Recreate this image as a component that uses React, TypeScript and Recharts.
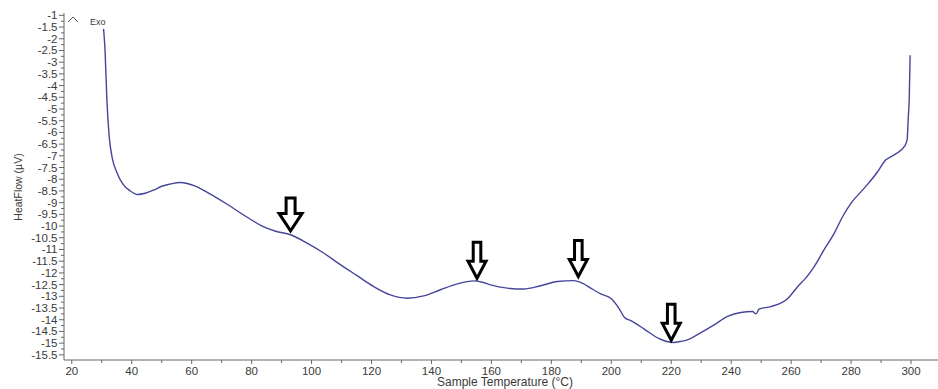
import React from 'react';
import { LineChart, Line, XAxis, YAxis, ReferenceDot } from 'recharts';

// Sample temperature (°C)
const temperature = [
  30.6, 31.1, 31.7, 32.5, 33.5, 35.0, 37.0, 39.5, 42.0, 44.5, 47.5, 50.0, 53.0, 56.0, 58.5,
  61.0, 65.5, 72.0, 78.0, 83.5, 88.0, 93.0, 98.5, 104.0, 109.6, 115.2, 120.7, 126.3, 131.9,
  137.4, 143.0, 148.6, 154.1, 157.0, 159.7, 165.3, 170.8, 176.4, 182.0, 187.5, 190.5, 193.1,
  196.5, 200.0, 202.5, 204.4, 206.7, 211.0, 215.8, 218.5, 220.9, 223.0, 225.4, 229.9, 234.3,
  238.8, 243.2, 247.1, 248.3, 249.3, 253.2, 258.8, 262.1, 265.0, 267.7, 271.0, 274.4, 277.2,
  280.0, 284.4, 288.9, 291.1, 294.5, 297.8, 298.7, 299.1, 299.4, 299.7,
];

// Heat flow (µV)
const heatFlow = [
  -1.58, -2.5, -4.6, -6.2, -7.1, -7.7, -8.2, -8.5, -8.65, -8.6, -8.45, -8.3, -8.2, -8.14, -8.18,
  -8.28, -8.58, -9.08, -9.58, -10.0, -10.22, -10.37, -10.73, -11.15, -11.65, -12.12, -12.58, -12.94, -13.08,
  -12.98, -12.72, -12.47, -12.34, -12.4, -12.51, -12.65, -12.69, -12.55, -12.37, -12.33, -12.45, -12.65,
  -12.9, -13.1, -13.5, -13.9, -14.05, -14.4, -14.8, -14.93, -14.97, -14.93, -14.86, -14.55, -14.22,
  -13.86, -13.69, -13.65, -13.75, -13.55, -13.44, -13.1, -12.6, -12.2, -11.73, -11.01, -10.3, -9.59,
  -9.02, -8.38, -7.67, -7.24, -6.95, -6.6, -6.31, -5.31, -4.6, -2.7,
];

// Arrow markers (tip positions)
const arrowTemps = [93, 155.2, 189, 220];
const arrowFlows = [-10.27, -12.29, -12.22, -14.94];

// Tick labels
const xLabels = [20, 40, 60, 80, 100, 120, 140, 160, 180, 200, 220, 240, 260, 280, 300];
const yLabels = [
  -15.5, -15, -14.5, -14, -13.5, -13, -12.5, -12, -11.5, -11, -10.5, -10, -9.5, -9, -8.5, -8,
  -7.5, -7, -6.5, -6, -5.5, -5, -4.5, -4, -3.5, -3, -2.5, -2, -1.5, -1,
];

const data = temperature.map((t, i) => ({ t, hf: heatFlow[i] }));

const xAllTicks = xLabels.flatMap((v, i) => (i < xLabels.length - 1 ? [v, v + 10] : [v]));
const yAllTicks = yLabels.flatMap((v, i) => (i < yLabels.length - 1 ? [v, v + 0.25] : [v]));

const TEXT = '#3a3a3a';
const AXIS = '#666';
const FONT = 'Liberation Sans, Arial, sans-serif';

const XTick = (props: any) => {
  const { x, y, payload } = props;
  const v = payload.value;
  const major = xLabels.includes(v);
  return (
    <g>
      <line x1={x} x2={x} y1={y} y2={y + (major ? 4 : 3)} stroke={AXIS} strokeWidth={1} />
      {major && (
        <text x={x} y={y + 14.5} textAnchor="middle" fontSize={11.5} fill={TEXT} fontFamily={FONT}>
          {v}
        </text>
      )}
    </g>
  );
};

const YTick = (props: any) => {
  const { x, y, payload } = props;
  const v = payload.value;
  const major = yLabels.includes(v);
  return (
    <g>
      <line x1={x - (major ? 5 : 3)} x2={x} y1={y} y2={y} stroke={AXIS} strokeWidth={1} />
      {major && (
        <text x={x - 6.5} y={y + 4} textAnchor="end" fontSize={11.5} fill={TEXT} fontFamily={FONT}>
          {String(v)}
        </text>
      )}
    </g>
  );
};

const makeArrow = (idx: number) => (props: any) => {
  const { cx, cy } = props;
  if (cx == null || cy == null) return <g />;
  const big = idx === 0;
  const hw = big ? 11.5 : 9;
  const sw = big ? 4.5 : 3.8;
  const hh = big ? 17.5 : 17;
  const H = big ? 33 : 36;
  const tipY = cy - 1.5;
  const d = `M${cx},${tipY} L${cx - hw},${tipY - hh} L${cx - sw},${tipY - hh} L${cx - sw},${tipY - H} L${cx + sw},${tipY - H} L${cx + sw},${tipY - hh} L${cx + hw},${tipY - hh} Z`;
  return <path d={d} fill="#fff" stroke="#000" strokeWidth={3} strokeLinejoin="miter" />;
};

export default function App() {
  return (
    <div style={{ position: 'absolute', left: 0, top: 0, width: 938, height: 389, background: '#fff' }}>
      <LineChart width={938} height={389} data={data} margin={{ top: 13, right: 0, bottom: 0, left: 0 }}>
        <XAxis
          dataKey="t"
          type="number"
          domain={[17.4, 309]}
          allowDataOverflow
          ticks={xAllTicks}
          interval={0}
          tick={<XTick />}
          tickLine={false}
          tickSize={0}
          tickMargin={0}
          height={29}
          axisLine={{ stroke: AXIS, strokeWidth: 1 }}
        />
        <YAxis
          type="number"
          domain={[-15.72, -0.9]}
          allowDataOverflow
          ticks={yAllTicks}
          interval={0}
          tick={<YTick />}
          tickLine={false}
          tickSize={0}
          tickMargin={0}
          width={64}
          axisLine={{ stroke: AXIS, strokeWidth: 1 }}
        />
        <Line
          type="monotone"
          dataKey="hf"
          stroke="#45459a"
          strokeWidth={1.4}
          dot={false}
          isAnimationActive={false}
        />
        {arrowTemps.map((t, i) => (
          <ReferenceDot
            key={i}
            x={t}
            y={arrowFlows[i]}
            r={0}
            ifOverflow="visible"
            shape={makeArrow(i)}
          />
        ))}
      </LineChart>
      <svg
        width={938}
        height={389}
        style={{ position: 'absolute', left: 0, top: 0, pointerEvents: 'none' }}
      >
        <polyline points="68,22 73,17 78,22" fill="none" stroke="#555" strokeWidth={1} />
        <text x={90} y={25} fontSize={9} fill={TEXT} fontFamily={FONT}>
          Exo
        </text>
        <text
          x={21.5}
          y={187}
          transform="rotate(-90 21.5 187)"
          textAnchor="middle"
          fontSize={10.5}
          fill={TEXT}
          fontFamily={FONT}
        >
          HeatFlow (µV)
        </text>
        <text x={505} y={386} textAnchor="middle" fontSize={12} fill={TEXT} fontFamily={FONT}>
          Sample Temperature (°C)
        </text>
      </svg>
    </div>
  );
}
